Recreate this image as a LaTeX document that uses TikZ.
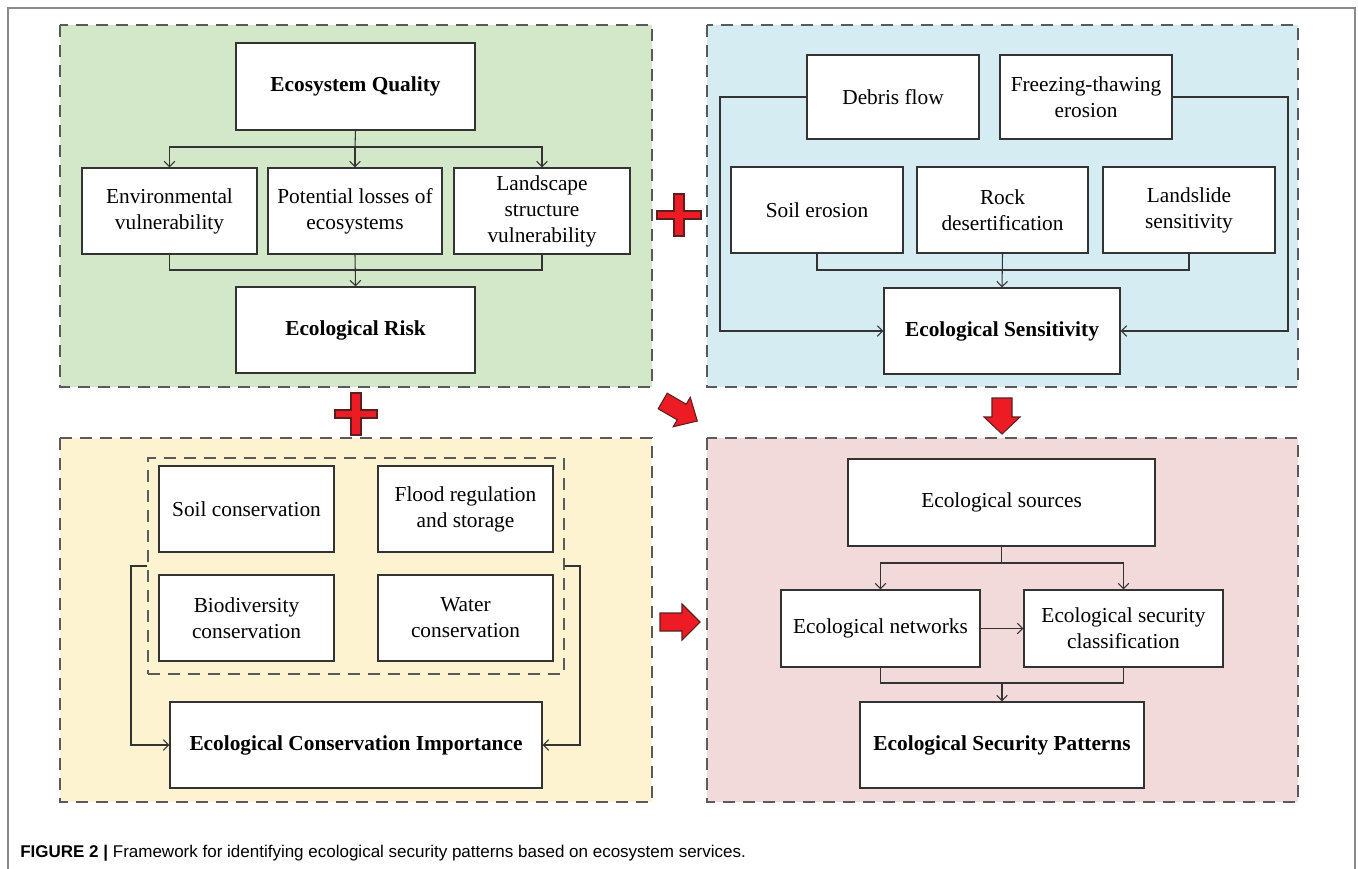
\documentclass[tikz,border=0pt]{standalone}
\usepackage{fontspec}
\setmainfont{Liberation Serif}
\newfontfamily\capfont{Liberation Sans}
\usetikzlibrary{arrows.meta,calc}
\definecolor{gfill}{HTML}{D3E7C9}
\definecolor{bfill}{HTML}{D5ECF2}
\definecolor{yfill}{HTML}{FDF3D0}
\definecolor{pfill}{HTML}{F3DADA}
\definecolor{linec}{HTML}{333333}
\definecolor{dashc}{HTML}{5A5A5A}
\definecolor{framec}{HTML}{8A8A8A}
\definecolor{redc}{HTML}{ED1C24}
\definecolor{reddk}{HTML}{5A2020}
\begin{document}
\begin{tikzpicture}[x=0.75pt,y=-0.75pt,
  sz/.style 2 args={minimum width=#1*0.75pt, minimum height=#2*0.75pt},
  box/.style={draw=linec, fill=white, line width=0.9pt, inner sep=0pt, align=center,
    font=\fontsize{16}{19.5}\selectfont},
  bbox/.style={box, font=\fontsize{16}{19.5}\selectfont\bfseries},
  panel/.style={draw=dashc, line width=1.1pt, dash pattern=on 9pt off 6pt},
  conn/.style={draw=linec, line width=0.8pt},
  arr/.style={conn, -{Straight Barb[length=4pt,width=8pt]}},
  redsh/.style={fill=redc, draw=reddk, line width=0.8pt, line join=miter}]
\useasboundingbox (0,0) rectangle (1358,868);
\fill[white] (0,0) rectangle (1358,868);
% outer frame
\draw[framec, line width=1pt] (8,890) -- (8,8) -- (1355,8) -- (1355,890);
% panels
\path[panel, fill=gfill] (60,25) rectangle (652,387);
\path[panel, fill=bfill] (707,25) rectangle (1298,387);
\path[panel, fill=yfill] (60,438) rectangle (652,802);
\path[panel, fill=pfill] (707,438) rectangle (1298,802);

% ---------- green panel ----------
\node[bbox, sz={239}{87}] (eq) at (355.5,86.5) {Ecosystem Quality};
\node[box, sz={175}{86}] (ev) at (169.5,211) {Environmental\\vulnerability};
\node[box, sz={174}{86}] (pl) at (355,211) {Potential losses of\\ecosystems};
\node[box, sz={176}{86}] (lv) at (542,211) {Landscape\\structure\\vulnerability};
\node[bbox, sz={239}{86}] (er) at (355.5,330) {Ecological Risk};
\coordinate (gj) at (355,147);
\coordinate (gk) at (355,270);
\draw[conn] (eq.south) -- (gj);
\draw[arr] (gj) -| (ev.north);
\draw[arr] (gj) -| (lv.north);
\draw[arr] (gj) -- (pl.north);
\draw[conn] (ev.south) |- (gk);
\draw[conn] (lv.south) |- (gk);
\draw[arr] (pl.south) -- (er.north);

% ---------- blue panel ----------
\node[box, sz={172}{84}] (df) at (893,97) {Debris flow};
\node[box, sz={172}{84}] (ft) at (1086,97) {Freezing-thawing\\erosion};
\node[box, sz={172}{86}] (se) at (817,210) {Soil erosion};
\node[box, sz={171}{86}] (rd) at (1002.5,210) {Rock\\desertification};
\node[box, sz={172}{86}] (ls) at (1189,210) {Landslide\\sensitivity};
\node[bbox, sz={236}{86}] (es) at (1002,331) {Ecological Sensitivity};
\coordinate (bl) at (720,97);
\coordinate (br) at (1288,97);
\coordinate (bk) at (1002,270);
\draw[arr] (df.west) -- (bl) |- (es.west);
\draw[arr] (ft.east) -- (br) |- (es.east);
\draw[conn] (se.south) |- (bk);
\draw[conn] (ls.south) |- (bk);
\draw[arr] (rd.south) -- (es.north);

% ---------- yellow panel ----------
\node[panel, sz={416}{216}, inner sep=0pt, line width=1pt] (ib) at (356,566) {};
\node[box, sz={175}{86}] (sc) at (246.5,509) {Soil conservation};
\node[box, sz={175}{86}] (fr) at (465.5,509) {Flood regulation\\and storage};
\node[box, sz={175}{86}] (bc) at (246.5,618) {Biodiversity\\conservation};
\node[box, sz={175}{86}] (wc) at (465.5,618) {Water\\conservation};
\node[bbox, sz={372}{86}] (eci) at (356,745) {Ecological Conservation Importance};
\coordinate (yl) at (131,566);
\coordinate (yr) at (580,566);
\draw[arr] (ib.west) -- (yl) |- (eci.west);
\draw[arr] (ib.east) -- (yr) |- (eci.east);

% ---------- pink panel ----------
\node[box, sz={307}{87}] (src) at (1001.5,502.5) {Ecological sources};
\node[box, sz={199}{77}] (en) at (880.5,628.5) {Ecological networks};
\node[box, sz={199}{77}] (esc) at (1123.5,628.5) {Ecological security\\classification};
\node[bbox, sz={284}{86}] (esp) at (1002,745) {Ecological Security Patterns};
\coordinate (pj) at (1001.5,563);
\coordinate (pk) at (1002,683);
\draw[conn] (src.south) -- (pj);
\draw[arr] (pj) -| (en.north);
\draw[arr] (pj) -| (esc.north);
\draw[arr] (en.east) -- (esc.west);
\draw[conn] (en.south) |- (pk);
\draw[conn] (esc.south) |- (pk);
\draw[arr] (pk) -- (esp.north);

% ---------- red symbols ----------
\begin{scope}[shift={(679,215)}]
\path[redsh] (-5,-21) -- (5,-21) -- (5,-4) -- (22,-4) -- (22,4) -- (5,4) -- (5,21)
  -- (-5,21) -- (-5,4) -- (-22,4) -- (-22,-4) -- (-5,-4) -- cycle;
\end{scope}
\begin{scope}[shift={(356,414)}]
\path[redsh] (-5,-21) -- (5,-21) -- (5,-4) -- (21,-4) -- (21,4) -- (5,4) -- (5,21)
  -- (-5,21) -- (-5,4) -- (-21,4) -- (-21,-4) -- (-5,-4) -- cycle;
\end{scope}
\begin{scope}[shift={(680,411)}, rotate=-30]
\path[redsh] (-20,-9) -- (2,-9) -- (2,-17) -- (20,0) -- (2,17) -- (2,9) -- (-20,9) -- cycle;
\end{scope}
\path[redsh] (992,398) -- (1012,398) -- (1012,417) -- (1020,417) -- (1002,434)
  -- (984,417) -- (992,417) -- cycle;
\path[redsh] (660,613) -- (682,613) -- (682,604) -- (700,622) -- (682,640)
  -- (682,631) -- (660,631) -- cycle;

% ---------- caption ----------
\node[anchor=base west, inner sep=0pt, font=\capfont\fontsize{12.75}{15}\selectfont] (cap) at (20,857)
  {\textbf{FIGURE 2 |} Framework for identifying ecological security patterns based on ecosystem services.};
\end{tikzpicture}
\end{document}
